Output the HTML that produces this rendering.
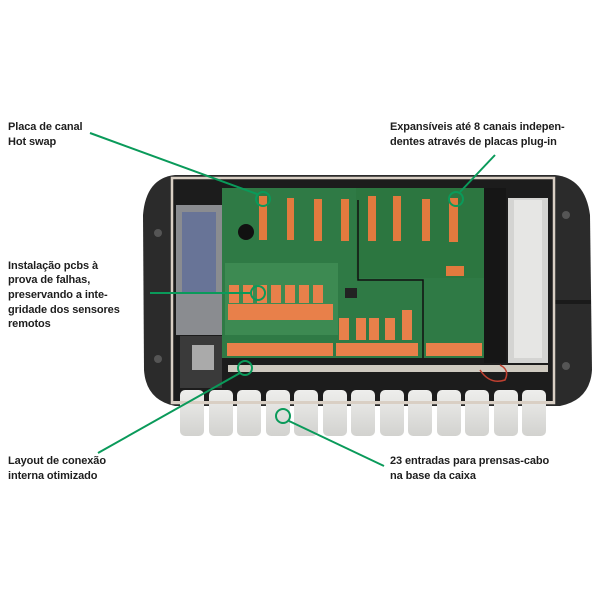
<!DOCTYPE html>
<html><head><meta charset="utf-8"><style>
html,body{margin:0;padding:0;background:#fff;}
svg{display:block}
text{font-family:"Liberation Sans","DejaVu Sans",sans-serif;font-size:11px;fill:#1e1e1e;font-weight:bold;letter-spacing:-0.1px;}
</style></head><body>
<svg width="600" height="600" viewBox="0 0 600 600" xmlns="http://www.w3.org/2000/svg">
<defs>
<linearGradient id="g" x1="0" y1="0" x2="0" y2="1"><stop offset="0" stop-color="#eeeeec"/><stop offset="1" stop-color="#d2d2cf"/></linearGradient>
</defs>
<rect width="600" height="600" fill="#fff"/>
<path d="M175,175 L555,175 Q585,178 590,215 L592,370 Q590,400 560,406 L175,406 Q146,400 144,370 L143,215 Q146,178 175,175 Z" fill="#2b2b2b"/>
<rect x="543" y="300" width="48" height="4" fill="#1a1a1a"/>
<circle cx="158" cy="233" r="4" fill="#555"/><circle cx="158" cy="359" r="4" fill="#555"/>
<circle cx="566" cy="215" r="4" fill="#555"/><circle cx="566" cy="366" r="4" fill="#555"/>
<rect x="172" y="178" width="382" height="225" fill="#1c1c1c" stroke="#d9cfc4" stroke-width="2.5"/>
<rect x="176" y="205" width="46" height="130" fill="#8a8c90"/>
<rect x="182" y="212" width="34" height="80" fill="#5a6a9a" opacity="0.7"/>
<rect x="180" y="336" width="42" height="52" fill="#3a3a3a"/>
<rect x="192" y="345" width="22" height="25" fill="#aaa"/>
<rect x="222" y="188" width="262" height="170" fill="#2f7a45"/>
<rect x="356" y="188" width="128" height="90" fill="#2c7640"/>
<path d="M358,200 L358,280 L423,280 L423,358" stroke="#111" stroke-width="1.5" fill="none"/>
<g fill="#e27a3e">
<rect x="259" y="196" width="8" height="44"/><rect x="287" y="198" width="7" height="42"/>
<rect x="314" y="199" width="8" height="42"/><rect x="341" y="199" width="8" height="42"/>
<rect x="368" y="196" width="8" height="45"/><rect x="393" y="196" width="8" height="45"/>
<rect x="422" y="199" width="8" height="42"/><rect x="449" y="198" width="9" height="44"/>
<rect x="446" y="266" width="18" height="10"/>
</g>
<circle cx="246" cy="232" r="8" fill="#111"/>
<rect x="225" y="263" width="113" height="72" fill="#3d8a52"/>
<g fill="#e8804a">
<rect x="229" y="285" width="10" height="18"/><rect x="243" y="285" width="10" height="18"/>
<rect x="257" y="285" width="10" height="18"/><rect x="271" y="285" width="10" height="18"/>
<rect x="285" y="285" width="10" height="18"/><rect x="299" y="285" width="10" height="18"/>
<rect x="313" y="285" width="10" height="18"/>
<rect x="228" y="304" width="105" height="16"/>
<rect x="339" y="318" width="10" height="22"/><rect x="356" y="318" width="10" height="22"/>
<rect x="369" y="318" width="10" height="22"/><rect x="385" y="318" width="10" height="22"/>
<rect x="402" y="310" width="10" height="30"/>
<rect x="227" y="343" width="106" height="13"/><rect x="336" y="343" width="82" height="13"/>
<rect x="426" y="343" width="56" height="13"/>
</g>
<rect x="345" y="288" width="12" height="10" fill="#222"/>
<rect x="484" y="188" width="22" height="175" fill="#161616"/>
<rect x="508" y="198" width="40" height="165" fill="#d4d4d2"/>
<rect x="514" y="200" width="28" height="158" fill="#e6e6e4"/>
<rect x="228" y="365" width="320" height="7" fill="#cfcac0"/>
<path d="M480,370 Q490,385 505,380 Q510,370 500,365" stroke="#c04030" stroke-width="1.5" fill="none"/>
<g fill="url(#g)">
<rect x="180" y="390" width="24" height="46" rx="5"/><rect x="209" y="390" width="24" height="46" rx="5"/>
<rect x="237" y="390" width="24" height="46" rx="5"/><rect x="266" y="390" width="24" height="46" rx="5"/>
<rect x="294" y="390" width="24" height="46" rx="5"/><rect x="323" y="390" width="24" height="46" rx="5"/>
<rect x="351" y="390" width="24" height="46" rx="5"/><rect x="380" y="390" width="24" height="46" rx="5"/>
<rect x="408" y="390" width="24" height="46" rx="5"/><rect x="437" y="390" width="24" height="46" rx="5"/>
<rect x="465" y="390" width="24" height="46" rx="5"/><rect x="494" y="390" width="24" height="46" rx="5"/>
<rect x="522" y="390" width="24" height="46" rx="5"/>
</g>
<rect x="172" y="401" width="382" height="3" fill="#d9cfc4"/>
<g stroke="#0a9a5a" stroke-width="2" fill="none">
<line x1="90" y1="133" x2="257" y2="194"/>
<circle cx="263" cy="199" r="7"/>
<line x1="495" y1="155" x2="460" y2="192"/>
<circle cx="456" cy="199" r="7"/>
<line x1="150" y1="293" x2="250" y2="293"/>
<circle cx="258" cy="293" r="7"/>
<line x1="98" y1="453" x2="240" y2="373"/>
<circle cx="245" cy="368" r="7"/>
<line x1="289" y1="421" x2="384" y2="466"/>
<circle cx="283" cy="416" r="7"/>
</g>
<text x="8" y="130">Placa de canal</text>
<text x="8" y="145">Hot swap</text>
<text x="390" y="130">Expansíveis até 8 canais indepen-</text>
<text x="390" y="145">dentes através de placas plug-in</text>
<text x="8" y="269">Instalação pcbs à</text>
<text x="8" y="283">prova de falhas,</text>
<text x="8" y="298">preservando a inte-</text>
<text x="8" y="313">gridade dos sensores</text>
<text x="8" y="327">remotos</text>
<text x="8" y="464">Layout de conexão</text>
<text x="8" y="479">interna otimizado</text>
<text x="390" y="464">23 entradas para prensas-cabo</text>
<text x="390" y="479">na base da caixa</text>
</svg>
</body></html>
